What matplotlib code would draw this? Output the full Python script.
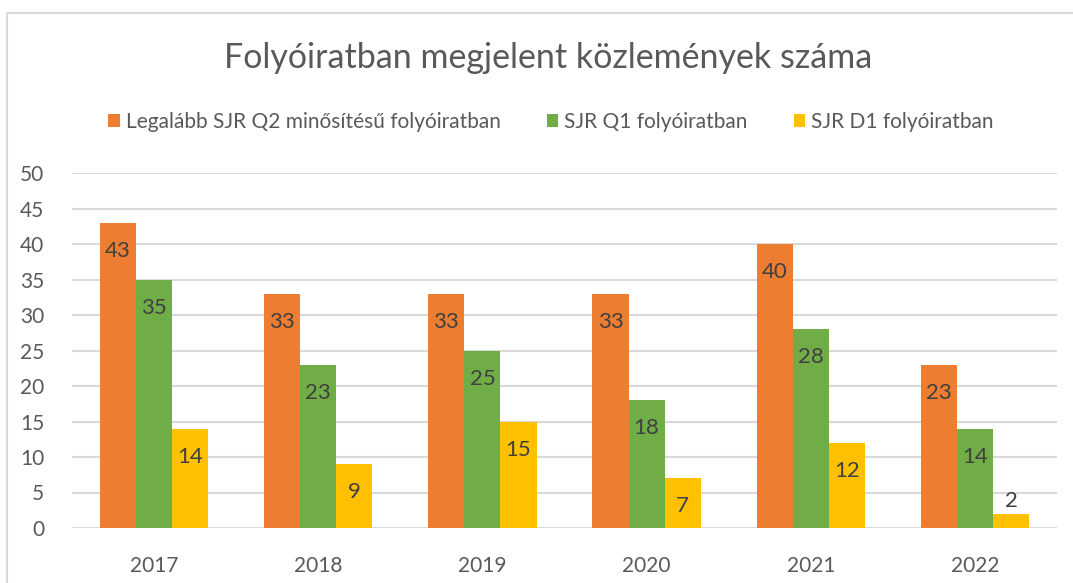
import numpy as np
import matplotlib.pyplot as plt
from matplotlib.patches import Rectangle

years = ['2017', '2018', '2019', '2020', '2021', '2022']
q2_values = [43, 33, 33, 33, 40, 23]
q1_values = [35, 23, 25, 18, 28, 14]
d1_values = [14, 9, 15, 7, 12, 2]
series_names = ['Legalább SJR Q2 minősítésű folyóiratban', 'SJR Q1 folyóiratban', 'SJR D1 folyóiratban']
colors = ['#ED7D31', '#70AD47', '#FFC000']

plt.rcParams['font.family'] = ['Lato', 'DejaVu Sans']
txt = '#595959'

W, H = 1073, 583
fig = plt.figure(figsize=(W / 100, H / 100), dpi=100)
# chart frame (cut off on right/bottom like the screenshot)
fig.patches.append(Rectangle((7 / W, -0.1), 1.2, 1 - 13 / H + 0.1, transform=fig.transFigure,
                             fill=False, edgecolor='#D9D9D9', linewidth=1.5, zorder=0))

ax = fig.add_axes([72 / W, 1 - 528 / H, (1057 - 72) / W, (528 - 173) / H])
x = np.arange(len(years))
bw = 0.22
for i, (vals, col, name) in enumerate(zip([q2_values, q1_values, d1_values], colors, series_names)):
    xs = x + (i - 1) * bw
    ax.bar(xs, vals, width=bw, color=col, label=name, zorder=3)
    for xi, v in zip(xs, vals):
        if v >= 5:
            ax.annotate(str(v), (xi, v), xytext=(0, -28 * 0.72), textcoords='offset points',
                        ha='center', va='center', fontsize=16, color='#404040', zorder=4)
        else:
            ax.annotate(str(v), (xi, v), xytext=(0, 2), textcoords='offset points',
                        ha='center', va='bottom', fontsize=16, color='#404040', zorder=4)

ax.set_xlim(-0.5, len(years) - 0.5)
ax.set_ylim(0, 50)
ax.set_yticks(range(0, 51, 5))
ax.set_xticks(x)
ax.set_xticklabels(years)
ax.yaxis.grid(True, color='#D9D9D9', linewidth=1.5, zorder=0)
ax.set_axisbelow(True)
for s in ax.spines.values():
    s.set_visible(False)
ax.tick_params(length=0, labelsize=15, colors=txt)
ax.tick_params(axis='y', pad=20)
ax.tick_params(axis='x', pad=20)

fig.text(548 / W, 1 - 58 / H, 'Folyóiratban megjelent közlemények száma', ha='center', va='center',
         fontsize=24.5, color=txt)
fig.legend(loc='center', bbox_to_anchor=(551 / W, 1 - 122 / H), ncol=3, frameon=False,
           fontsize=15, labelcolor=txt, handlelength=0.55, handleheight=0.6, handletextpad=0.3,
           columnspacing=2.2)

fig.savefig('out.png', dpi=100)
